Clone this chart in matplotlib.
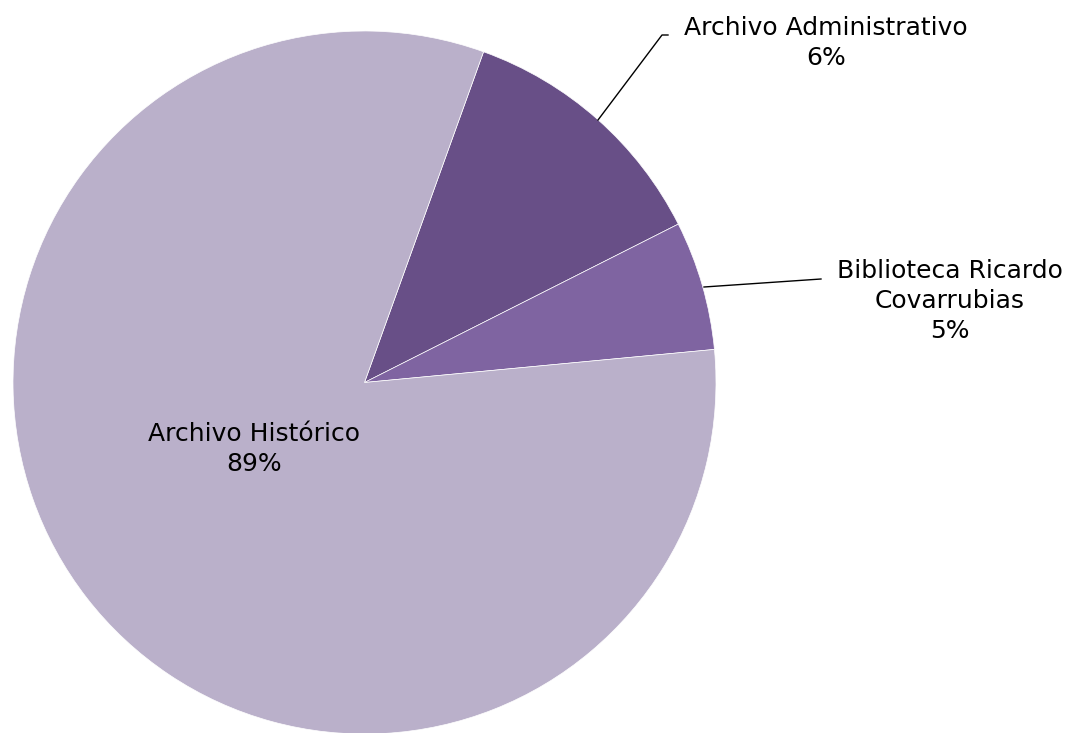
import matplotlib.pyplot as plt

categories = ["Archivo Administrativo", "Biblioteca Ricardo\nCovarrubias", "Archivo Histórico"]
shares = [12.06, 5.94, 82.0]
pct_labels = ["6%", "5%", "89%"]
colors = ["#684F87", "#7F64A1", "#BAB0CA"]

W, H = 1081, 733
fig = plt.figure(figsize=(W / 100, H / 100), dpi=100)
ax = fig.add_axes([0, 0, 1, 1])

cx, cy, r = 364.5, 382.5, 351.5
ax.pie(shares, colors=colors, startangle=-70.2, counterclock=True,
       center=(cx, cy), radius=r, frame=True,
       wedgeprops=dict(edgecolor="white", linewidth=0.5))
ax.set_xlim(0, W)
ax.set_ylim(H, 0)
ax.set_aspect("equal")
ax.axis("off")

font = "DejaVu Sans"
fs = 18

# leader lines
ax.plot([598, 662, 668], [120, 35, 35], color="black", lw=1)
ax.plot([704, 821], [287, 279], color="black", lw=1)

ax.text(826, 43, categories[0] + "\n" + pct_labels[0], ha="center", va="center",
        fontsize=fs, family=font, linespacing=1.3)
ax.text(950, 301, categories[1] + "\n" + pct_labels[1], ha="center", va="center",
        fontsize=fs, family=font, linespacing=1.3)
ax.text(254, 449, categories[2] + "\n" + pct_labels[2], ha="center", va="center",
        fontsize=fs, family=font, linespacing=1.3)

fig.savefig("out.png", dpi=100)
